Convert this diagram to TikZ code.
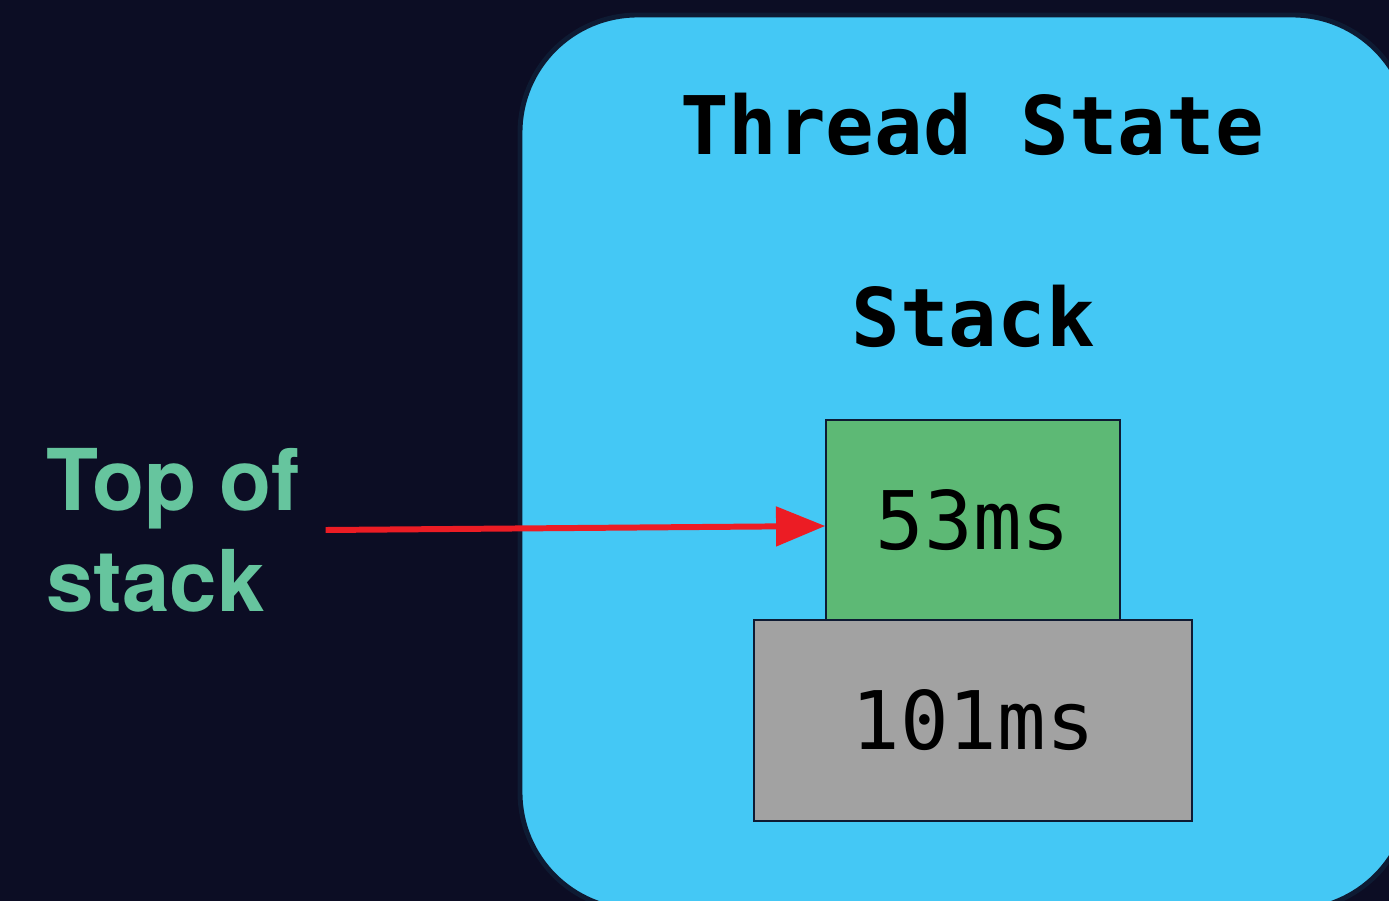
\documentclass[tikz,border=0pt]{standalone}
\usepackage{fontspec}
\newfontfamily\monofont{DejaVu Sans Mono}
\newfontfamily\labelfont{TeX Gyre Heros}
\usetikzlibrary{arrows.meta,backgrounds}
\tikzset{>={Triangle[length=28pt,width=22pt]}}

\definecolor{nightbg}{HTML}{0C0D24}
\definecolor{threadblue}{HTML}{44C8F5}
\definecolor{rimdark}{HTML}{0E1B33}
\definecolor{framegreen}{HTML}{5DB975}
\definecolor{framegray}{HTML}{A2A2A2}
\definecolor{arrowred}{HTML}{EC1C24}
\definecolor{labelgreen}{HTML}{66C59E}

\tikzset{
    frame/.style={draw=rimdark, line width=0.85pt, minimum height=4cm, inner sep=0pt,
        font=\monofont\fontsize{46}{50}\selectfont},
    heading/.style={anchor=base, inner sep=0pt, font=\monofont\bfseries\fontsize{46}{50}\selectfont}
}

\begin{document}
\begin{tikzpicture}

    \useasboundingbox[fill=nightbg] (0,0) rectangle (27.78,-18.02);

    \begin{scope}
    \clip (0,0) rectangle (27.78,-18.02);
    \draw[fill=threadblue, draw=rimdark, line width=2.8pt, rounded corners=2.35cm] (10.4,-0.3) rectangle (28.2,-18.2);
    \end{scope}

    \node[heading] (title) at (19.44,-3.10) {Thread State};
    \node[heading] (stack) at (19.46,-6.92) {Stack};

    \node[frame, fill=framegreen, minimum width=5.88cm] (top) at (19.46,-10.4) {53ms};
    \node[frame, fill=framegray, minimum width=8.76cm, minimum height=4.02cm] (bottom) at (19.46,-14.41) {101ms};

    \node[anchor=west, align=left, inner xsep=0.5cm, inner ysep=0pt, text=labelgreen,
        font=\labelfont\bfseries\fontsize{48.5}{57.5}\selectfont] (tos) at (0.42,-10.6) {Top of\\stack};

    \draw[->, arrowred, line width=3.4pt] (tos.east) -- ([yshift=-0.12cm]top.west);

\end{tikzpicture}
\end{document}
